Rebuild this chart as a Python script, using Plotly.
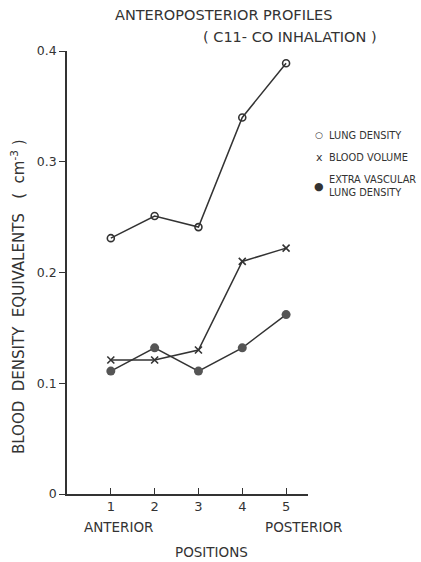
import plotly.graph_objects as go

positions = [1, 2, 3, 4, 5]
lung_density = [0.231, 0.251, 0.241, 0.340, 0.389]
blood_volume = [0.121, 0.121, 0.130, 0.210, 0.222]
extra_vascular = [0.111, 0.132, 0.111, 0.132, 0.162]
y_ticks = [0, 0.1, 0.2, 0.3, 0.4]
y_tick_labels = ["0", "0.1", "0.2", "0.3", "0.4"]
series_names = ["LUNG DENSITY", "BLOOD VOLUME", "EXTRA VASCULAR<br>LUNG DENSITY"]
legend_glyphs = ["○", "x", "●"]

INK = "#333333"
FONT = "DejaVu Sans"
SP = "\u00a0"

W, H = 421, 562
ML, MR, MT, MB = 67, 113, 51, 68
pw = W - ML - MR
ph = H - MT - MB


def px_to_paper(px, py):
    return (px - ML) / pw, (H - MB - py) / ph


markers = [
    dict(symbol="circle-open", size=7, color=INK, line=dict(width=1.6, color=INK)),
    dict(symbol="x-thin", size=7, color=INK, line=dict(width=1.6, color=INK)),
    dict(symbol="circle", size=9, color="#555555", line=dict(width=0)),
]
values = [lung_density, blood_volume, extra_vascular]

fig = go.Figure()
for name, vals, mk in zip(series_names, values, markers):
    fig.add_trace(go.Scatter(x=positions, y=vals, mode="lines+markers", name=name.replace("<br>", " "),
                             line=dict(color=INK, width=1.5), marker=mk,
                             showlegend=False, cliponaxis=False))

annotations = []


def add_text(text, px, py, size, xanchor="center", angle=0, align="center"):
    x, y = px_to_paper(px, py)
    annotations.append(dict(text=text, x=x, y=y, xref="paper", yref="paper",
                            xanchor=xanchor, yanchor="middle", textangle=angle, align=align,
                            showarrow=False, font=dict(size=size)))


add_text("ANTEROPOSTERIOR PROFILES", 223, 15, 14.5)
add_text("( C11- CO INHALATION )", 290, 37, 14.5)
y_title = f"BLOOD{SP}{SP}DENSITY{SP}{SP}EQUIVALENTS{SP}{SP}{SP}({SP}{SP}cm<sup>-3</sup>{SP})"
add_text(y_title, 18, 297, 15, angle=-90)
add_text("ANTERIOR", 118, 527, 13.5)
add_text("POSTERIOR", 303, 527, 13.5)
add_text("POSITIONS", 211, 552, 13.5)

# legend drawn as text
legend_rows = [135, 157, 186]
glyph_sizes = [9, 11, 11]
for name, glyph, gy, gs in zip(series_names, legend_glyphs, legend_rows, glyph_sizes):
    add_text(glyph, 319, gy, gs)
    add_text(name, 327, gy, 9.8, xanchor="left", align="left")

fig.update_layout(
    width=W, height=H,
    margin=dict(l=ML, r=MR, t=MT, b=MB),
    paper_bgcolor="white", plot_bgcolor="white",
    font=dict(family=FONT, color=INK, size=10),
    showlegend=False,
    xaxis=dict(range=[0, 5.5], tickvals=positions, ticktext=[str(p) for p in positions],
               ticks="inside", ticklen=6, tickwidth=1.2, tickcolor=INK,
               showline=True, linecolor=INK, linewidth=1.5, showgrid=False, zeroline=False,
               tickfont=dict(size=13)),
    yaxis=dict(range=[0, 0.4], tickvals=y_ticks, ticktext=y_tick_labels,
               ticks="outside", ticklen=6, tickwidth=1.2, tickcolor=INK,
               showline=True, linecolor=INK, linewidth=1.5, showgrid=False, zeroline=False,
               tickfont=dict(size=12.5)),
    annotations=annotations,
)

fig.write_html("out.html")
